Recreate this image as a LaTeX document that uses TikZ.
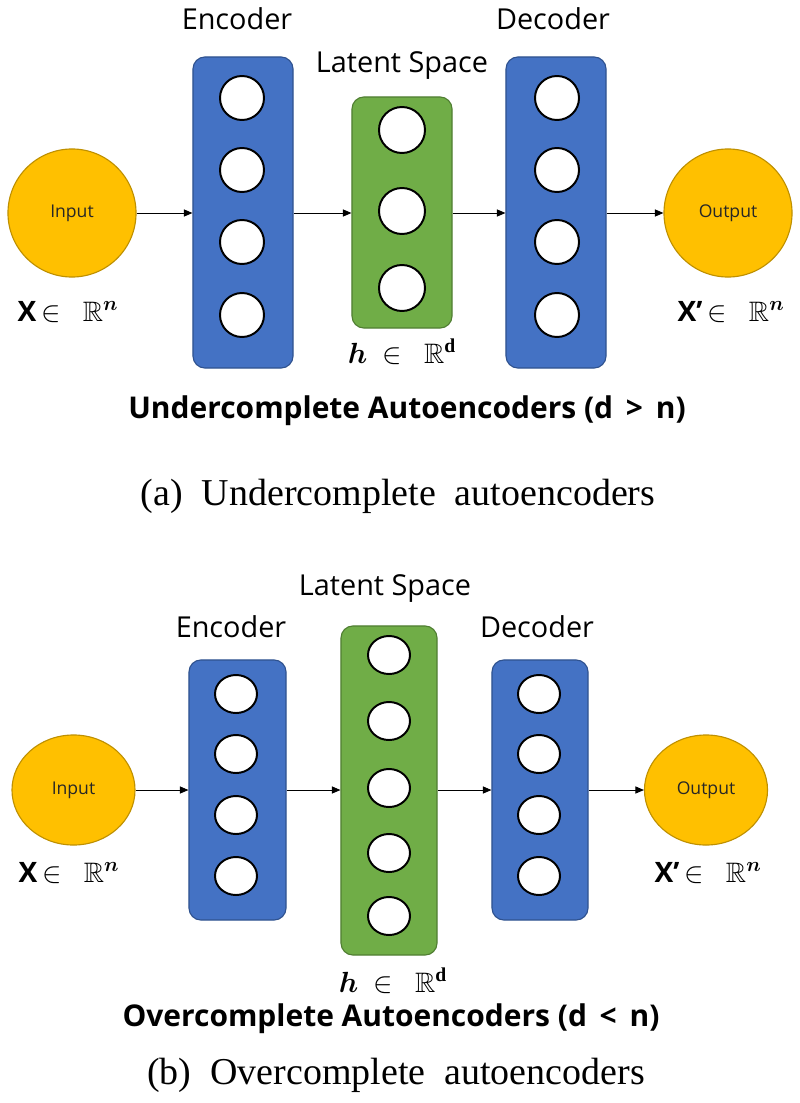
\documentclass[tikz,border=0pt]{standalone}
\usepackage{amsmath,amssymb}
\usepackage{fontspec}
\setmainfont{Liberation Serif}
\setsansfont{Open Sans}
\usetikzlibrary{arrows.meta,shapes.geometric}
\definecolor{ioyellow}{HTML}{FFC000}
\definecolor{iodark}{HTML}{BF9000}
\definecolor{encblue}{HTML}{4472C4}
\definecolor{encdark}{HTML}{2F528F}
\definecolor{latgreen}{HTML}{70AD47}
\definecolor{latdark}{HTML}{507E32}
\tikzset{
  iobox/.style={ellipse, draw=iodark, fill=ioyellow, line width=0.8pt, inner sep=0pt,
    font=\sffamily\fontsize{12.5}{14}\selectfont, text=black!85},
  encbox/.style={rectangle, rounded corners=8.5pt, draw=encdark, fill=encblue, line width=0.8pt, inner sep=0pt},
  latbox/.style={rectangle, rounded corners=8.5pt, draw=latdark, fill=latgreen, line width=0.8pt, inner sep=0pt},
  neuron/.style={ellipse, draw=black, fill=white, line width=1.4pt, inner sep=0pt},
  lbl/.style={font=\sffamily\fontsize{20.5}{24}\selectfont, inner sep=0pt},
  mathlbl/.style={font=\fontsize{20}{24}\selectfont, inner sep=0pt},
  titlelbl/.style={font=\sffamily\bfseries\fontsize{21.3}{25}\selectfont, inner sep=0pt},
  caplbl/.style={font=\rmfamily\fontsize{27}{32}\selectfont, inner sep=0pt},
  arr/.style={-{Triangle[length=6pt,width=5pt]}, line width=0.6pt, draw=black}
}
\newcommand{\Xlab}{{\sffamily\bfseries X}$\,\in\ \ \mathbb{R}^{\boldsymbol{n}}$}
\newcommand{\Xplab}{{\sffamily\bfseries X’}$\,\in\ \ \mathbb{R}^{\boldsymbol{n}}$}
\newcommand{\hlab}{$\boldsymbol{h}\ \in\ \ \mathbb{R}^{\mathbf{d}}$}
\begin{document}
\begin{tikzpicture}[x=0.025cm,y=-0.025cm]
\useasboundingbox (0,0) rectangle (800,1103);
%% ---------------- (a) Undercomplete ----------------
\node[iobox, minimum width=3.2cm, minimum height=3.2cm] (in1) at (72,213) {Input};
\node[encbox, minimum width=2.5cm, minimum height=7.775cm] (enc1) at (243,212.5) {};
\node[latbox, minimum width=2.5cm, minimum height=5.775cm] (lat1) at (402,212.5) {};
\node[encbox, minimum width=2.5cm, minimum height=7.775cm] (dec1) at (556,212.5) {};
\node[iobox, minimum width=3.2cm, minimum height=3.2cm] (out1) at (728,213) {Output};
\foreach \y [count=\i] in {98,170,242,315}{
  \node[neuron, minimum width=1.1cm, minimum height=1.1cm] (e1n\i) at (242,\y) {};
  \node[neuron, minimum width=1.1cm, minimum height=1.1cm] (d1n\i) at (557,\y) {};
}
\foreach \y [count=\i] in {130,211,288}{
  \node[neuron, minimum width=1.15cm, minimum height=1.15cm] (l1n\i) at (402,\y) {};
}
\node[lbl] (enc1lbl) at (237,19) {Encoder};
\node[lbl] (lat1lbl) at (402,66) {Latent Space};
\node[lbl] (dec1lbl) at (553,19) {Decoder};
\node[mathlbl] (x1lbl) at (68,312) {\Xlab};
\node[mathlbl] (xp1lbl) at (731,312) {\Xplab};
\node[mathlbl] (h1lbl) at (402,352) {\hlab};
\node[titlelbl] (title1) at (407,411) {Undercomplete Autoencoders (d \,>\, n)};
\node[caplbl] (cap1) at (398,496) {(a)\ \ Undercomplete\ \ autoencoders};
\draw[arr] (in1.east) -- (in1.east -| enc1.west);
\draw[arr] (enc1.east |- in1.east) -- (in1.east -| lat1.west);
\draw[arr] (lat1.east |- in1.east) -- (in1.east -| dec1.west);
\draw[arr] (dec1.east |- in1.east) -- (out1.west);
%% ---------------- (b) Overcomplete ----------------
\node[iobox, minimum width=3.075cm, minimum height=2.75cm] (in2) at (73.5,790) {Input};
\node[encbox, minimum width=2.425cm, minimum height=6.5cm] (enc2) at (237.5,790) {};
\node[latbox, minimum width=2.4cm, minimum height=8.225cm] (lat2) at (389,790.5) {};
\node[encbox, minimum width=2.4cm, minimum height=6.5cm] (dec2) at (540,790) {};
\node[iobox, minimum width=3.075cm, minimum height=2.75cm] (out2) at (706,790) {Output};
\foreach \y [count=\i] in {694,754,815,876}{
  \node[neuron, minimum width=1.05cm, minimum height=0.95cm] (e2n\i) at (236,\y) {};
  \node[neuron, minimum width=1.05cm, minimum height=0.95cm] (d2n\i) at (539,\y) {};
}
\foreach \y [count=\i] in {655,721,788,853,916}{
  \node[neuron, minimum width=1.05cm, minimum height=0.95cm] (l2n\i) at (389,\y) {};
}
\node[lbl] (enc2lbl) at (231,627) {Encoder};
\node[lbl] (lat2lbl) at (385,589) {Latent Space};
\node[lbl] (dec2lbl) at (537,627) {Decoder};
\node[mathlbl] (x2lbl) at (69,873) {\Xlab};
\node[mathlbl] (xp2lbl) at (708,873) {\Xplab};
\node[mathlbl] (h2lbl) at (393,981) {\hlab};
\node[titlelbl] (title2) at (391,1019) {Overcomplete Autoencoders (d \,<\, n)};
\node[caplbl] (cap2) at (396,1075) {(b)\ \ Overcomplete\ \ autoencoders};
\draw[arr] (in2.east) -- (in2.east -| enc2.west);
\draw[arr] (enc2.east |- in2.east) -- (in2.east -| lat2.west);
\draw[arr] (lat2.east |- in2.east) -- (in2.east -| dec2.west);
\draw[arr] (dec2.east |- in2.east) -- (out2.west);
\end{tikzpicture}
\end{document}
